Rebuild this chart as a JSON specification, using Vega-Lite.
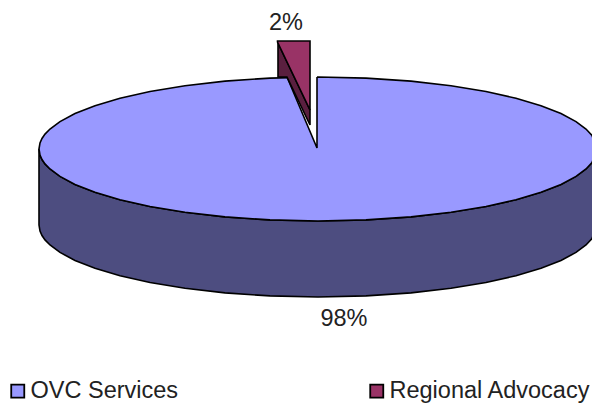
{
"$schema":"https://vega.github.io/schema/vega-lite/v6.json",
"width":592,"height":405,"padding":0,
"autosize":{"type":"fit","contains":"padding"},
"background":"white",
"view":{"stroke":null},
"config":{"font":"Liberation Sans"},
"datasets":{
"side":[{"x":39,"y":149,"y2":225},{"x":40,"y":155.1,"y2":231.1},{"x":42,"y":159.5,"y2":235.5},{"x":45,"y":163.9,"y2":239.9},{"x":50,"y":169,"y2":245},{"x":60,"y":176.4,"y2":252.4},{"x":75,"y":184.4,"y2":260.4},{"x":95,"y":192.3,"y2":268.3},{"x":120,"y":199.7,"y2":275.7},{"x":150,"y":206.5,"y2":282.5},{"x":185,"y":212.3,"y2":288.3},{"x":225,"y":216.9,"y2":292.9},{"x":270,"y":219.9,"y2":295.9},{"x":318,"y":221,"y2":297},{"x":366,"y":219.9,"y2":295.9},{"x":411,"y":216.9,"y2":292.9},{"x":451,"y":212.3,"y2":288.3},{"x":486,"y":206.5,"y2":282.5},{"x":516,"y":199.7,"y2":275.7},{"x":541,"y":192.3,"y2":268.3},{"x":561,"y":184.4,"y2":260.4},{"x":576,"y":176.4,"y2":252.4},{"x":586,"y":169,"y2":245},{"x":592,"y":162.6,"y2":238.6},{"x":597,"y":149,"y2":225}],
"top":[{"slice":"OVC Services","x":39,"y":149,"y2":149},{"slice":"OVC Services","x":40,"y":142.9,"y2":155.1},{"slice":"OVC Services","x":42,"y":138.5,"y2":159.5},{"slice":"OVC Services","x":45,"y":134.1,"y2":163.9},{"slice":"OVC Services","x":50,"y":129,"y2":169},{"slice":"OVC Services","x":60,"y":121.6,"y2":176.4},{"slice":"OVC Services","x":75,"y":113.6,"y2":184.4},{"slice":"OVC Services","x":95,"y":105.7,"y2":192.3},{"slice":"OVC Services","x":120,"y":98.3,"y2":199.7},{"slice":"OVC Services","x":150,"y":91.5,"y2":206.5},{"slice":"OVC Services","x":185,"y":85.7,"y2":212.3},{"slice":"OVC Services","x":225,"y":81.1,"y2":216.9},{"slice":"OVC Services","x":270,"y":78.1,"y2":219.9},{"slice":"OVC Services","x":318,"y":77,"y2":221},{"slice":"OVC Services","x":366,"y":78.1,"y2":219.9},{"slice":"OVC Services","x":411,"y":81.1,"y2":216.9},{"slice":"OVC Services","x":451,"y":85.7,"y2":212.3},{"slice":"OVC Services","x":486,"y":91.5,"y2":206.5},{"slice":"OVC Services","x":516,"y":98.3,"y2":199.7},{"slice":"OVC Services","x":541,"y":105.7,"y2":192.3},{"slice":"OVC Services","x":561,"y":113.6,"y2":184.4},{"slice":"OVC Services","x":576,"y":121.6,"y2":176.4},{"slice":"OVC Services","x":586,"y":129,"y2":169},{"slice":"OVC Services","x":592,"y":135.4,"y2":162.6},{"slice":"OVC Services","x":597,"y":149,"y2":149}],
"gap":[{"x":287,"y":75,"y2":77},{"x":317,"y":75,"y2":148}],
"edge":[{"o":1,"x":287,"y":77},{"o":2,"x":317,"y":148},{"o":3,"x":317,"y":77}],
"dark":[{"x":278,"y":43,"y2":77},{"x":287,"y":62,"y2":77},{"x":310,"y":110,"y2":125}],
"wedge":[{"slice":"Regional Advocacy","x":277.5,"y":41,"y2":42},{"slice":"Regional Advocacy","x":310,"y":41,"y2":110}],
"labels":[{"x":286,"y":22.5,"t":"2%"},{"x":344,"y":319,"t":"98%"}]
},
"layer":[
{"data":{"name":"side"},"mark":{"type":"area","orient":"vertical","clip":true,"color":"#4D4D80","stroke":"black","strokeWidth":1.6},
"encoding":{"x":{"field":"x","type":"quantitative","scale":{"domain":[0,592],"nice":false},"axis":null},"y":{"field":"y","type":"quantitative","scale":{"domain":[405,0],"nice":false},"axis":null},"y2":{"field":"y2"}}},
{"data":{"name":"top"},"mark":{"type":"area","orient":"vertical","clip":true,"stroke":"black","strokeWidth":1.6},
"encoding":{"x":{"field":"x","type":"quantitative","scale":{"domain":[0,592],"nice":false},"axis":null},"y":{"field":"y","type":"quantitative","scale":{"domain":[405,0],"nice":false},"axis":null},"y2":{"field":"y2"},
"color":{"field":"slice","type":"nominal","scale":{"domain":["OVC Services","Regional Advocacy"],"range":["#9999FF","#993366"]},
"legend":{"title":null,"orient":"none","legendX":6,"legendY":379,"direction":"horizontal","columns":2,"columnPadding":186,"symbolType":"square","symbolSize":170,"symbolStrokeColor":"black","symbolStrokeWidth":1.8,"symbolOpacity":1,"labelFont":"Liberation Sans","labelFontSize":23.5,"labelColor":"#222222","labelOffset":1,"labelLimit":300}}}},
{"data":{"name":"gap"},"mark":{"type":"area","orient":"vertical","color":"white"},
"encoding":{"x":{"field":"x","type":"quantitative","scale":{"domain":[0,592],"nice":false},"axis":null},"y":{"field":"y","type":"quantitative","scale":{"domain":[405,0],"nice":false},"axis":null},"y2":{"field":"y2"}}},
{"data":{"name":"edge"},"mark":{"type":"line","clip":true,"color":"black","strokeWidth":1.6},
"encoding":{"x":{"field":"x","type":"quantitative","scale":{"domain":[0,592],"nice":false},"axis":null},"y":{"field":"y","type":"quantitative","scale":{"domain":[405,0],"nice":false},"axis":null},"order":{"field":"o"}}},
{"data":{"name":"dark"},"mark":{"type":"area","orient":"vertical","color":"#5A1F3F","stroke":"black","strokeWidth":1.6},
"encoding":{"x":{"field":"x","type":"quantitative","scale":{"domain":[0,592],"nice":false},"axis":null},"y":{"field":"y","type":"quantitative","scale":{"domain":[405,0],"nice":false},"axis":null},"y2":{"field":"y2"}}},
{"data":{"name":"wedge"},"mark":{"type":"area","orient":"vertical","stroke":"black","strokeWidth":1.6},
"encoding":{"x":{"field":"x","type":"quantitative","scale":{"domain":[0,592],"nice":false},"axis":null},"y":{"field":"y","type":"quantitative","scale":{"domain":[405,0],"nice":false},"axis":null},"y2":{"field":"y2"},"color":{"field":"slice","type":"nominal"}}},
{"data":{"name":"labels"},"mark":{"type":"text","font":"Liberation Sans","fontSize":23.5,"color":"#222222","baseline":"middle","align":"center"},
"encoding":{"x":{"field":"x","type":"quantitative","scale":{"domain":[0,592],"nice":false},"axis":null},"y":{"field":"y","type":"quantitative","scale":{"domain":[405,0],"nice":false},"axis":null},"text":{"field":"t"}}}
]
}
